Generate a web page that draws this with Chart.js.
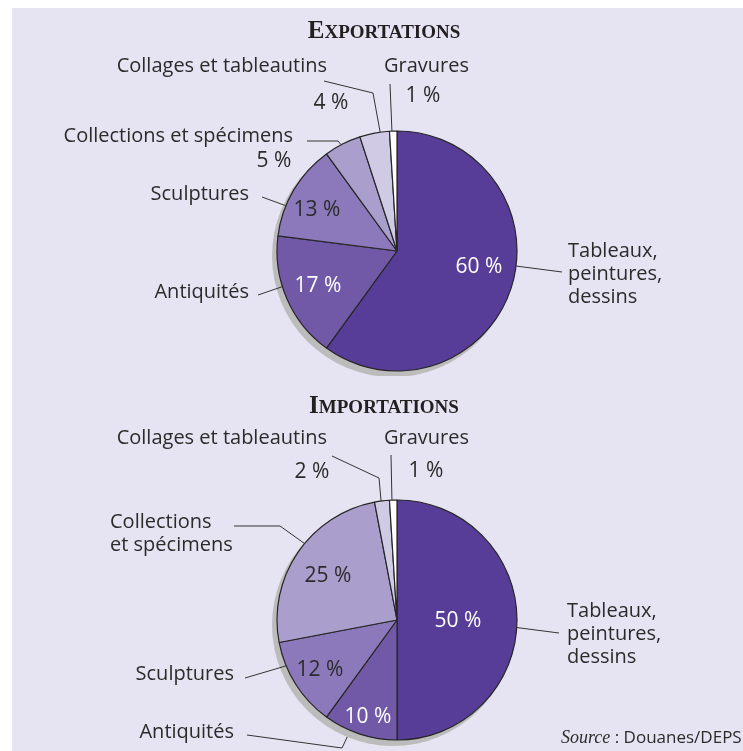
<!DOCTYPE html>
<html>
<head>
<meta charset="utf-8">
<script src="https://cdn.jsdelivr.net/npm/chart.js@4.4.0/dist/chart.umd.min.js"></script>
<style>
  html, body { margin: 0; padding: 0; background: #fff; }
  #panel { position: absolute; left: 12px; top: 8px; width: 731px; height: 743px; background: #e6e4f2; }
  canvas { position: absolute; left: 0; }
  #exportChart { top: 0; }
  #importChart { top: 369px; }
</style>
</head>
<body>
<div id="panel"></div>
<canvas id="exportChart" width="743" height="376"></canvas>
<canvas id="importChart" width="743" height="382"></canvas>
<script>
(function () {
    'use strict';

    // ── Data ──────────────────────────────────────────────────────────────────
    var categories   = ['Tableaux, peintures, dessins', 'Antiquités', 'Sculptures',
                        'Collections et spécimens', 'Collages et tableautins', 'Gravures'];
    var exportValues = [60, 17, 13, 5, 4, 1];
    var importValues = [50, 10, 12, 25, 2, 1];
    var sliceColors  = ['#573d98', '#7259a8', '#8c79bb', '#aa9ecc', '#d0cae4', '#ffffff'];

    var TEXT = '#2b2b2b';
    var LABEL_FONT = '20px "Open Sans"';
    var PCT_FONT   = '21px "Open Sans"';

    // label layout: name text, % text, leader line (f = where on the slice edge it starts)
    var exportLayout = [
        { lines: ['Tableaux,', 'peintures,', 'dessins'], align: 'left', nx: 568, ny: 257,
          px: 479, py: 273, pc: '#fff', f: 0.45, line: [[562, 272]] },
        { lines: ['Antiquités'], align: 'right', nx: 249, ny: 298,
          px: 318, py: 292, pc: '#fff', f: 0.60, line: [[258, 295]] },
        { lines: ['Sculptures'], align: 'right', nx: 249, ny: 200,
          px: 317, py: 216, f: 0.32, line: [[262, 197]] },
        { lines: ['Collections et spécimens'], align: 'right', nx: 293, ny: 142,
          px: 274, py: 167, f: 0.46, line: [[338, 141], [307, 141]] },
        { lines: ['Collages et tableautins'], align: 'right', nx: 327, ny: 72,
          px: 331, py: 109, f: 0.69, line: [[373, 93], [324, 81]] },
        { lines: ['Gravures'], align: 'left', nx: 384, ny: 72,
          px: 423, py: 102, f: 0.33, line: [[390, 84]] }
    ];

    var importLayout = [
        { lines: ['Tableaux,', 'peintures,', 'dessins'], align: 'left', nx: 567, ny: 248,
          px: 458, py: 258, pc: '#fff', f: 0.52, line: [[559, 264]] },
        { lines: ['Antiquités'], align: 'right', nx: 234, ny: 369,
          px: 368, py: 354, pc: '#fff', f: 0.64, dr: 7, line: [[342, 379], [247, 366]] },
        { lines: ['Sculptures'], align: 'right', nx: 234, ny: 311,
          px: 320, py: 307, f: 0.73, line: [[245, 309]] },
        { lines: ['Collections', 'et spécimens'], align: 'left', nx: 110, ny: 159,
          px: 328, py: 213, f: 0.56, line: [[280, 157], [234, 157]] },
        { lines: ['Collages et tableautins'], align: 'right', nx: 327, ny: 75,
          px: 312, py: 109, f: 0.44, line: [[379, 109], [332, 87]] },
        { lines: ['Gravures'], align: 'left', nx: 384, ny: 75,
          px: 426, py: 108, f: 0.33, line: [[391, 86]] }
    ];

    // small caps title: big first letter, smaller capitals after
    function drawTitle(ctx, text, x, y) {
        var first = text.charAt(0).toUpperCase();
        var rest  = text.slice(1).toUpperCase();
        var big   = 'bold 25px "Liberation Serif"';
        var small = 'bold 19px "Liberation Serif"';
        ctx.font = big;   var w1 = ctx.measureText(first).width;
        ctx.font = small; var w2 = ctx.measureText(rest).width;
        var x0 = x - (w1 + w2) / 2;
        ctx.textAlign = 'left';
        ctx.fillStyle = '#231f20';
        ctx.font = big;   ctx.fillText(first, x0, y);
        ctx.font = small; ctx.fillText(rest, x0 + w1, y);
    }

    var pieDecor = {
        id: 'pieDecor',
        beforeDatasetsDraw: function (chart) {
            // grey drop shadow under the pie
            var arc = chart.getDatasetMeta(0).data[0];
            var ctx = chart.ctx;
            ctx.save();
            ctx.fillStyle = '#bcbcbc';
            ctx.beginPath();
            ctx.arc(arc.x - 4, arc.y + 5, arc.outerRadius + 1, 0, Math.PI * 2);
            ctx.fill();
            ctx.restore();
        },
        afterDraw: function (chart) {
            var opts   = chart.options.plugins.pieDecor;
            var meta   = chart.getDatasetMeta(0);
            var values = chart.data.datasets[0].data;
            var ctx    = chart.ctx;
            ctx.save();
            ctx.textBaseline = 'alphabetic';
            drawTitle(ctx, opts.title, opts.titleX, opts.titleY);

            opts.layout.forEach(function (l, i) {
                var el = meta.data[i];
                var a  = el.startAngle + (el.endAngle - el.startAngle) * l.f;
                var r  = el.outerRadius + (l.dr || 0);
                ctx.strokeStyle = '#333';
                ctx.lineWidth = 1;
                ctx.beginPath();
                ctx.moveTo(el.x + Math.cos(a) * r, el.y + Math.sin(a) * r);
                l.line.forEach(function (p) { ctx.lineTo(p[0], p[1]); });
                ctx.stroke();

                ctx.font = LABEL_FONT;
                ctx.fillStyle = TEXT;
                ctx.textAlign = l.align;
                l.lines.forEach(function (t, k) { ctx.fillText(t, l.nx, l.ny + k * 23); });

                ctx.font = PCT_FONT;
                ctx.textAlign = 'center';
                ctx.fillStyle = l.pc || TEXT;
                ctx.fillText(values[i] + ' %', l.px, l.py);
            });

            if (opts.source) {
                ctx.textAlign = 'left';
                ctx.fillStyle = TEXT;
                ctx.font = 'italic 18px "Liberation Serif"';
                ctx.fillText('Source', opts.source[0], opts.source[1]);
                var w = ctx.measureText('Source').width;
                ctx.font = '17px "Open Sans"';
                ctx.fillText(' : Douanes/DEPS', opts.source[0] + w, opts.source[1]);
            }
            ctx.restore();
        }
    };

    function makePie(canvasId, values, padding, decor) {
        return new Chart(document.getElementById(canvasId), {
            type: 'pie',
            data: {
                labels: categories,
                datasets: [{
                    data: values,
                    backgroundColor: sliceColors,
                    borderColor: '#262626',
                    borderWidth: 1.2
                }]
            },
            options: {
                responsive: false,
                animation: false,
                events: [],
                radius: 120,
                layout: { padding: padding },
                plugins: {
                    legend: { display: false },
                    tooltip: { enabled: false },
                    pieDecor: decor
                }
            },
            plugins: [pieDecor]
        });
    }

    makePie('exportChart', exportValues, { left: 51, right: 0, top: 126, bottom: 0 },
        { title: 'Exportations', titleX: 384, titleY: 38, layout: exportLayout });

    makePie('importChart', importValues, { left: 51, right: 0, top: 120, bottom: 0 },
        { title: 'Importations', titleX: 384, titleY: 44, layout: importLayout, source: [561, 374] });
})();
</script>
</body>
</html>
